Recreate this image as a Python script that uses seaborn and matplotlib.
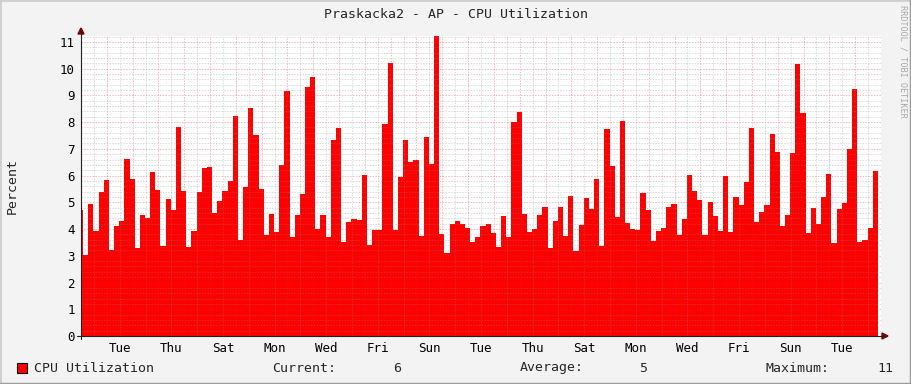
import numpy as np
import pandas as pd
import seaborn as sns
import matplotlib
matplotlib.use("Agg")
import matplotlib.pyplot as plt
from matplotlib.lines import Line2D
from matplotlib.patches import Polygon, Rectangle

# ---------------- data ----------------
cpu_values = [
    4.71, 3.03, 4.93, 3.93, 5.37, 5.83, 3.21, 4.11, 4.30, 6.62, 5.87, 3.29, 4.52, 4.41, 6.13, 5.46, 3.36, 5.12, 4.71, 7.81,
    5.42, 3.34, 3.93, 5.38, 6.28, 6.32, 4.61, 5.05, 5.42, 5.79, 8.22, 3.59, 5.57, 8.52, 7.51, 5.50, 3.78, 4.56, 3.89,
    6.39, 9.16, 3.70, 4.52, 5.31, 9.31, 9.68, 4.00, 4.52, 3.70, 7.33, 7.78, 3.51, 4.26, 4.37, 4.34, 6.02, 3.40, 3.96,
    3.96, 7.93, 10.21, 3.96, 5.94, 7.33, 6.50, 6.58, 3.74, 7.44, 6.43, 11.21, 3.81, 3.10, 4.19, 4.30, 4.19, 4.04, 3.51,
    3.70, 4.11, 4.19, 3.85, 3.33, 4.49, 3.70, 8.00, 8.37, 4.56, 3.89, 4.00, 4.52, 4.82, 3.29, 4.30, 4.82, 3.74, 5.23,
    3.18, 4.15, 5.16, 4.75, 5.87, 3.36, 7.74, 6.36, 4.45, 8.04, 4.22, 4.00, 3.96, 5.35, 4.71, 3.55, 3.93, 4.04, 4.82, 4.93,
    3.78, 4.37, 6.02, 5.42, 5.08, 3.78, 5.01, 4.49, 3.93, 5.98, 3.89, 5.20, 4.90, 5.76, 7.78, 4.26, 4.64, 4.90, 7.55,
    6.88, 4.11, 4.52, 6.84, 10.17, 8.34, 3.85, 4.79, 4.19, 5.20, 6.06, 3.48, 4.75, 4.97, 6.99, 9.23, 3.51, 3.59, 4.04, 6.17,
]
day_labels = ["Tue", "Thu", "Sat", "Mon", "Wed", "Fri", "Sun", "Tue",
              "Thu", "Sat", "Mon", "Wed", "Fri", "Sun", "Tue"]
y_ticks = list(range(0, 12))
title = "Praskacka2 - AP - CPU Utilization"
series_name = "CPU Utilization"
y_label = "Percent"

# ---------------- geometry ----------------
W, H = 911, 384
step_days = 0.2            # sample step (days)
start_day = -0.12          # first sample start (days from left edge)
span_days = 31.0
ymax = 11.22

def fx(x):
    return x / W

def fy(y):
    return 1 - y / H

sns.set_style("white")
plt.rcParams["font.family"] = ["DejaVu Sans Mono", "DejaVu Sans"]

fig = plt.figure(figsize=(W / 100, H / 100), dpi=100)
fig.patch.set_facecolor("#F3F3F3")
ax = fig.add_axes([fx(81), fy(336), 800 / W, 300 / H])
ax.set_facecolor("white")

n = len(cpu_values)
centers = start_day + step_days * np.arange(n) + step_days / 2
df = pd.DataFrame({"t": centers, "cpu": cpu_values})

sns.histplot(data=df, x="t", weights="cpu", bins=n,
             binrange=(start_day, start_day + n * step_days), element="step",
             fill=True, color="#FF0000", alpha=1.0, linewidth=0, ax=ax)

ax.set_xlim(0, span_days)
ax.set_ylim(0, ymax)
ax.set_xlabel("")
ax.set_ylabel("")

# grids (drawn on top like rrdtool)
minor_col = (0.55, 0.55, 0.55, 0.32)
major_col = (0.9, 0.15, 0.15, 0.33)
dash = (0, (1.4, 1.4))
xt = ax.get_xaxis_transform()
yt = ax.get_yaxis_transform()
ax.vlines(np.arange(0.5, span_days, 1.0), 0, 1, transform=xt, colors=[minor_col],
          linewidth=0.72, linestyles=[dash], zorder=3)
ax.vlines(np.arange(1, span_days, 1.0), 0, 1, transform=xt, colors=[major_col],
          linewidth=0.72, linestyles=[dash], zorder=3)
minor_y = [v for v in np.arange(0.2, ymax, 0.2) if abs(v - round(v)) > 1e-6]
ax.hlines(minor_y, 0, 1, transform=yt, colors=[minor_col], linewidth=0.72,
          linestyles=[dash], zorder=3)
ax.hlines(y_ticks[1:], 0, 1, transform=yt, colors=[major_col], linewidth=0.72,
          linestyles=[dash], zorder=3)

# ticks
label_pos = np.arange(1.5, span_days, 2.0)[:len(day_labels)]
ax.set_xticks(label_pos)
ax.set_xticklabels(day_labels)
ax.set_yticks(y_ticks)
ax.set_yticklabels([str(v) for v in y_ticks])
ax.tick_params(axis="x", length=0, pad=4, labelsize=9, colors="black")
ax.tick_params(axis="y", length=2.5, width=0.8, pad=2, labelsize=9,
               color="#404040", labelcolor="black", direction="out")
for s in ax.spines.values():
    s.set_visible(False)

# axis lines with arrows
fig.add_artist(Line2D([fx(81), fx(81)], [fy(339), fy(31)], color="#202020", lw=0.8))
fig.add_artist(Line2D([fx(77), fx(884)], [fy(336), fy(336)], color="#202020", lw=0.8))
fig.add_artist(Polygon([[fx(78), fy(34)], [fx(84), fy(34)], [fx(81), fy(28)]],
                       closed=True, color="#7F0000"))
fig.add_artist(Polygon([[fx(882), fy(333)], [fx(882), fy(339)], [fx(888), fy(336)]],
                       closed=True, color="#7F0000"))

# texts
fig.text(fx(456), fy(14), title, ha="center", va="center", fontsize=9.5)
fig.text(fx(12), fy(186), y_label, rotation=90, ha="center", va="center", fontsize=9.5)
fig.text(fx(903), fy(5), "RRDTOOL / TOBI OETIKER", rotation=270, ha="center",
         va="top", fontsize=6.1, color="#A8A8A8")

# legend line
cur = "%.0f" % cpu_values[-1]
avg = "%.0f" % np.mean(cpu_values)
mx = "%.0f" % np.max(cpu_values)
ly = fy(368)
fig.add_artist(Rectangle((fx(17), fy(373)), 10 / W, 10 / H, facecolor="#FF0000",
                         edgecolor="black", linewidth=0.8))
fig.text(fx(34), ly, series_name, ha="left", va="center", fontsize=9.5)
fig.text(fx(272), ly, "Current:", ha="left", va="center", fontsize=9.5)
fig.text(fx(401), ly, cur, ha="right", va="center", fontsize=9.5)
fig.text(fx(520), ly, "Average:", ha="left", va="center", fontsize=9.5)
fig.text(fx(647), ly, avg, ha="right", va="center", fontsize=9.5)
fig.text(fx(765), ly, "Maximum:", ha="left", va="center", fontsize=9.5)
fig.text(fx(893), ly, mx, ha="right", va="center", fontsize=9.5)

# frame shading
fig.add_artist(Line2D([0, 0], [0, 1], color="#CFCFCF", lw=2))
fig.add_artist(Line2D([0, 1], [1, 1], color="#CFCFCF", lw=2))
fig.add_artist(Line2D([0, 1], [0, 0], color="#9E9E9E", lw=2.5))
fig.add_artist(Line2D([1, 1], [0, 1], color="#9E9E9E", lw=2.5))

fig.savefig("out.png", dpi=100, facecolor=fig.get_facecolor())
